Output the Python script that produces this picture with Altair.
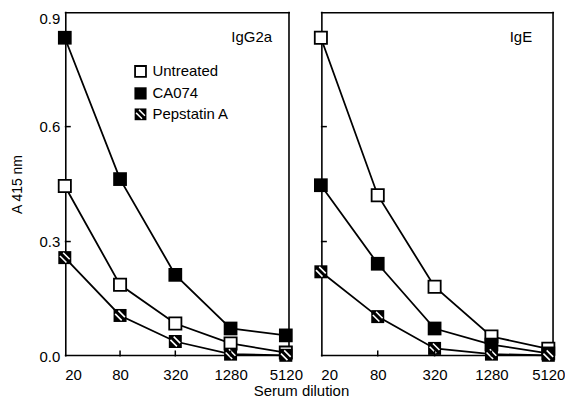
import altair as alt
import pandas as pd

dilutions = [20, 80, 320, 1280, 5120]
treatments = ["Untreated", "CA074", "Pepstatin A"]
panels = ["IgG2a", "IgE"]

igg2a_untreated = [0.445, 0.187, 0.086, 0.034, 0.010]
igg2a_ca074 = [0.832, 0.463, 0.213, 0.073, 0.055]
igg2a_pepstatin = [0.258, 0.107, 0.039, 0.006, 0.003]

ige_untreated = [0.832, 0.421, 0.182, 0.052, 0.020]
ige_ca074 = [0.447, 0.242, 0.073, 0.031, 0.008]
ige_pepstatin = [0.221, 0.104, 0.021, 0.006, 0.003]

y_ticks = [0.0, 0.3, 0.6, 0.9]

series = {
    "IgG2a": [igg2a_untreated, igg2a_ca074, igg2a_pepstatin],
    "IgE": [ige_untreated, ige_ca074, ige_pepstatin],
}
rows = []
for p in panels:
    for t, vals in zip(treatments, series[p]):
        for d, v in zip(dilutions, vals):
            rows.append({"panel": p, "treatment": t, "dilution": d, "absorbance": v})
df = pd.DataFrame(rows)
one = pd.DataFrame({"k": [0]})

FONT = "Liberation Sans"
HEIGHT = 346
HATCH = "M-0.75,-0.25L0.25,0.75M-0.25,-0.75L0.75,0.25"


def make_panel(name, width, show_labels, xmax):
    xs = alt.Scale(type="log", domain=[20, xmax], nice=False)
    ys = alt.Scale(domain=[0, 0.9], nice=False)
    if show_labels:
        yaxis = alt.Axis(values=y_ticks, format=".1f", ticks=False,
                         domain=False, grid=False, labelFontSize=15, labelColor="black",
                         labelFont=FONT, labelPadding=5,
                         labelBaseline=alt.condition("datum.value >= 0.85",
                                                     alt.value("top"), alt.value("middle")),
                         title="A 415 nm",
                         titleFont=FONT, titleFontSize=14, titleFontWeight="normal",
                         titleColor="black", titlePadding=15)
    else:
        yaxis = None
    xaxis = alt.Axis(values=dilutions, format="d", ticks=False, domain=False, grid=False,
                     labelFontSize=15, labelColor="black", labelFont=FONT,
                     labelPadding=11, title=None, labelFlush=False,
                     labelAlign=alt.condition("datum.value <= 20",
                                              alt.value("left"), alt.value("center")),
                     labelBound=False)
    sub = df[df.panel == name]
    base = alt.Chart(sub).encode(
        x=alt.X("dilution:Q", scale=xs, axis=xaxis),
        y=alt.Y("absorbance:Q", scale=ys, axis=yaxis),
    )
    # frame drawn as four rules, slightly inset so none is clipped
    e = 1
    f_left = alt.Chart(one).mark_rule(color="black", strokeWidth=1.6).encode(
        x=alt.value(e), y=alt.value(0), y2=alt.value(HEIGHT))
    f_right = alt.Chart(one).mark_rule(color="black", strokeWidth=1.6).encode(
        x=alt.value(width - e), y=alt.value(0), y2=alt.value(HEIGHT))
    f_top = alt.Chart(one).mark_rule(color="black", strokeWidth=1.6).encode(
        y=alt.value(e), x=alt.value(0), x2=alt.value(width))
    f_bottom = alt.Chart(one).mark_rule(color="black", strokeWidth=1.6).encode(
        y=alt.value(HEIGHT - e), x=alt.value(0), x2=alt.value(width))
    lines = base.mark_line(color="black", strokeWidth=1.8).encode(detail="treatment:N")
    unt = base.transform_filter(alt.datum.treatment == treatments[0]).mark_point(
        shape="square", filled=True, fill="white", stroke="black", strokeWidth=1.8,
        size=150, opacity=1)
    ca = base.transform_filter(alt.datum.treatment == treatments[1]).mark_point(
        shape="square", filled=True, fill="black", size=190, opacity=1)
    pep_bg = base.transform_filter(alt.datum.treatment == treatments[2]).mark_point(
        shape="square", filled=True, fill="black", size=170, opacity=1)
    pep_hatch = base.transform_filter(alt.datum.treatment == treatments[2]).mark_point(
        shape=HATCH, filled=False, stroke="white", strokeWidth=1.6, size=170, opacity=1)

    # inward tick marks
    xt = alt.Chart(pd.DataFrame({"dilution": dilutions[1:-1]})).mark_rule(
        color="black", strokeWidth=1.5).encode(
        x=alt.X("dilution:Q", scale=xs), y=alt.value(HEIGHT), y2=alt.value(HEIGHT - 6))
    yt = alt.Chart(pd.DataFrame({"absorbance": y_ticks[1:-1]})).mark_rule(
        color="black", strokeWidth=1.5).encode(
        y=alt.Y("absorbance:Q", scale=ys), x=alt.value(0), x2=alt.value(6))

    label = alt.Chart(one).mark_text(text=name, align="right", baseline="middle",
                                     font=FONT, fontSize=15, color="black").encode(
        x=alt.value(width - (18 if show_labels else 22)), y=alt.value(25))

    layers = [lines, f_left, f_right, f_top, f_bottom, unt, ca, pep_bg, pep_hatch,
              xt, yt, label]

    if show_labels:
        lx, tx = 76, 88
        ly = [60, 82, 103]
        leg_unt = alt.Chart(one).mark_point(shape="square", filled=True, fill="white",
                                            stroke="black", strokeWidth=1.8, size=120,
                                            opacity=1).encode(x=alt.value(lx), y=alt.value(ly[0]))
        leg_ca = alt.Chart(one).mark_point(shape="square", filled=True, fill="black",
                                           size=150, opacity=1).encode(x=alt.value(lx), y=alt.value(ly[1]))
        leg_pb = alt.Chart(one).mark_point(shape="square", filled=True, fill="black",
                                           size=140, opacity=1).encode(x=alt.value(lx), y=alt.value(ly[2]))
        leg_ph = alt.Chart(one).mark_point(shape=HATCH, filled=False, stroke="white",
                                           strokeWidth=1.5, size=140, opacity=1).encode(
            x=alt.value(lx), y=alt.value(ly[2]))
        texts = [alt.Chart(one).mark_text(text=t, align="left", baseline="middle", font=FONT,
                                          fontSize=15, color="black").encode(
            x=alt.value(tx), y=alt.value(yy)) for t, yy in zip(treatments, ly)]
        layers += [leg_unt, leg_ca, leg_pb, leg_ph] + texts

    return alt.layer(*layers).properties(width=width, height=HEIGHT)


left = make_panel("IgG2a", 226, True, 5120 * 1.11)
right = make_panel("IgE", 234, False, 5120 * 1.15)

chart = alt.hconcat(left, right, spacing=8).properties(
    title=alt.TitleParams("Serum dilution", orient="bottom", anchor="middle",
                          font=FONT, fontSize=15, fontWeight="normal", color="black",
                          offset=2, dx=14),
    padding={"top": 2, "left": 2, "right": 0, "bottom": 0},
).configure(background="white").configure_view(strokeWidth=0)

chart.save("out.html", embed_options={"renderer": "svg", "actions": False})
